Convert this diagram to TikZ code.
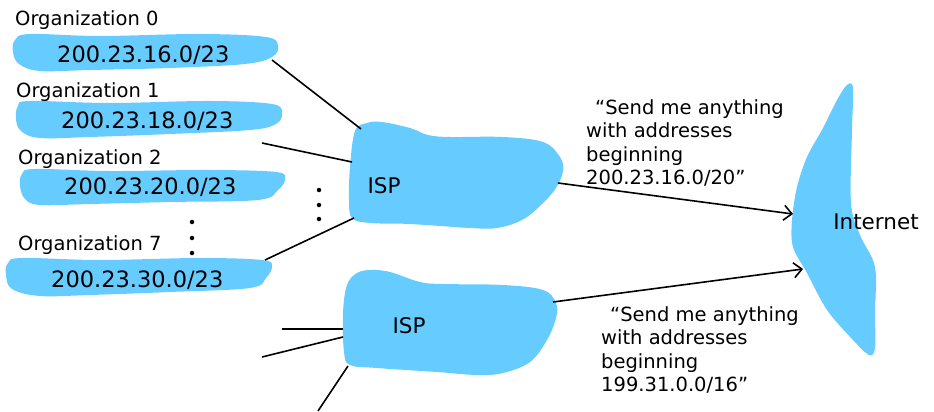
\documentclass[tikz,border=0pt]{standalone}
\usepackage{fontspec}
\setmainfont{DejaVu Sans}
\usetikzlibrary{arrows.meta}
\definecolor{blobblue}{RGB}{102,204,255}
\tikzset{
  blobfill/.style={fill=blobblue, draw=none},
  wire/.style={line width=1.6pt, draw=black},
  routewire/.style={line width=1.6pt, draw=black, -{Straight Barb[length=8pt,width=15pt]}},
  orglabel/.style={anchor=base west, inner sep=0pt, font=\fontsize{19.5}{21}\selectfont},
  cidrlabel/.style={anchor=base west, inner sep=0pt, font=\fontsize{22.5}{25}\selectfont},
  netlabel/.style={inner sep=0pt, font=\fontsize{21.5}{23}\selectfont},
  quotetxt/.style={anchor=north west, inner sep=0pt, align=left, font=\fontsize{19.5}{23.5}\selectfont},
  dotmark/.style={circle, fill=black, inner sep=0pt, minimum size=4.5pt}
}
\begin{document}
\begin{tikzpicture}[x=1pt, y=-1pt]
\useasboundingbox (0,0) rectangle (934,412);

% organization blobs
\fill[blobfill] plot[smooth cycle, tension=0.6] coordinates {(15,40) (30,34) (100,36) (200,34) (266,37) (278,46) (272,57) (245,64) (170,68) (90,70) (40,71) (19,64) (13,52)};
\fill[blobfill] plot[smooth cycle, tension=0.6] coordinates {(18,106) (30,101) (110,103) (210,101) (272,104) (282,113) (276,124) (250,130) (170,134) (90,137) (40,138) (21,131) (16,119)};
\fill[blobfill] plot[smooth cycle, tension=0.6] coordinates {(22,174) (35,169) (110,171) (210,170) (276,172) (285,179) (278,190) (258,200) (170,202) (90,204) (40,205) (25,199) (20,186)};
\fill[blobfill] plot[smooth cycle, tension=0.6] coordinates {(8,263) (22,258) (100,260) (200,258) (262,260) (272,266) (266,278) (250,288) (170,292) (90,295) (40,296) (12,289) (6,275)};

% ISP blobs
\fill[blobfill] plot[smooth cycle, tension=0.6] coordinates {(355,131) (367,123) (382,122) (410,128) (428,135) (450,137) (503,137) (543,142) (560,157) (563,171) (556,188) (541,205) (522,220) (497,228) (470,228) (410,224) (370,223) (352,218) (349,200) (350,167)};
\fill[blobfill] plot[smooth cycle, tension=0.6] coordinates {(347,285) (357,273) (371,270) (390,272) (420,282) (443,284) (503,285) (543,290) (556,303) (556,318) (547,340) (530,362) (503,373) (477,375) (437,372) (377,368) (350,365) (344,352) (343,313)};

% Internet blob
\fill[blobfill] plot[smooth cycle, tension=0.55] coordinates {(847,85) (853,88) (852,130) (851,203) (860,235) (875,267) (875,313) (875,348) (869,355) (853,340) (827,310) (807,273) (793,247) (792,220) (797,187) (807,157) (823,128) (837,100)};

% texts
\node[orglabel] (l0) at (15,26) {Organization 0};
\node[orglabel] (l1) at (16,97) {Organization 1};
\node[orglabel] (l2) at (18,164) {Organization 2};
\node[orglabel] (l7) at (18,250) {Organization 7};
\node[cidrlabel] (p0) at (57,63) {200.23.16.0/23};
\node[cidrlabel] (p1) at (61,128) {200.23.18.0/23};
\node[cidrlabel] (p2) at (64,194) {200.23.20.0/23};
\node[cidrlabel] (p7) at (51,287) {200.23.30.0/23};
\node[netlabel] (isp1) at (384,186) {ISP};
\node[netlabel] (isp2) at (409,326) {ISP};
\node[netlabel] (inet) at (876,222) {Internet};
\node[quotetxt] (q1) at (586,99) {\hspace*{9pt}“Send me anything\\with addresses\\beginning\\200.23.16.0/20”};
\node[quotetxt] (q2) at (601,306) {\hspace*{9pt}“Send me anything\\with addresses\\beginning\\199.31.0.0/16”};

% dots
\node[dotmark] (da1) at (192,222) {};
\node[dotmark] (da2) at (192,238) {};
\node[dotmark] (da3) at (192,253) {};
\node[dotmark] (db1) at (319,190) {};
\node[dotmark] (db2) at (319,205) {};
\node[dotmark] (db3) at (319,219) {};

% connection points
\coordinate (o0) at (272,60);
\coordinate (o1) at (262,143);
\coordinate (o7) at (265,260);
\coordinate (i1a) at (361,129);
\coordinate (i1b) at (352,162);
\coordinate (i1c) at (354,218);
\coordinate (i1out) at (558,183);
\coordinate (i2a) at (343,329);
\coordinate (i2b) at (343,337);
\coordinate (i2c) at (348,366);
\coordinate (i2out) at (553,302);
\coordinate (e1) at (282,329);
\coordinate (e2) at (262,357);
\coordinate (e3) at (318,411);
\coordinate (n1) at (793,214);
\coordinate (n2) at (803,269);

% connectors
\draw[wire] (o0) -- (i1a);
\draw[wire] (o1) -- (i1b);
\draw[wire] (o7) -- (i1c);
\draw[wire] (e1) -- (i2a);
\draw[wire] (e2) -- (i2b);
\draw[wire] (e3) -- (i2c);
\draw[routewire] (i1out) -- (n1);
\draw[routewire] (i2out) -- (n2);
\end{tikzpicture}
\end{document}
